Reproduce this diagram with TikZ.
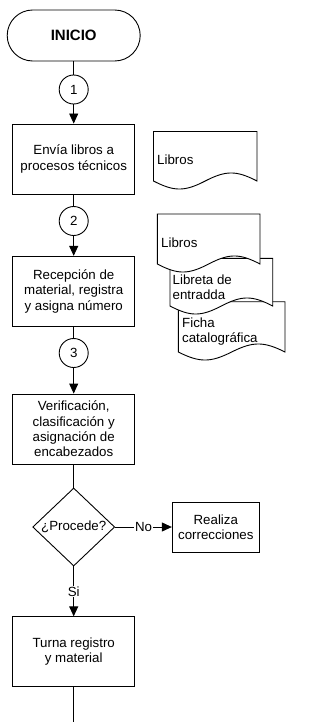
\documentclass[tikz,border=0pt]{standalone}
\usepackage{fontspec}
\setmainfont{Liberation Sans}
\usetikzlibrary{shapes.geometric,arrows.meta,calc}
\newcommand\docshape[4]{%
  \pgfmathsetmacro\dsW{#2-#1}%
  \pgfmathsetmacro\dsM{#1+0.5*\dsW}%
  \pgfmathsetmacro\dsA{#2-0.2*\dsW}%
  \pgfmathsetmacro\dsB{\dsM+0.2*\dsW}%
  \pgfmathsetmacro\dsC{\dsM-0.2*\dsW}%
  \pgfmathsetmacro\dsD{#1+0.2*\dsW}%
  \pgfmathsetmacro\dsU{#4-10.7}%
  \pgfmathsetmacro\dsL{#4+10.7}%
  \filldraw[docline] (#1,#3) -- (#2,#3) -- (#2,#4)
    .. controls (\dsA,\dsU) and (\dsB,\dsU) .. (\dsM,#4)
    .. controls (\dsC,\dsL) and (\dsD,\dsL) .. (#1,#4) -- cycle;
}
\begin{document}
\begin{tikzpicture}[x=1pt,y=-1pt,
  every node/.style={font=\fontsize{13.3}{15.3}\selectfont},
  line/.style={draw=black,line width=0.9pt},
  arr/.style={line,-{Triangle[length=10pt,width=9pt]}},
  proc/.style={draw=black,line width=0.9pt,fill=white,minimum width=122pt,minimum height=70pt,align=center,inner sep=2pt},
  conn/.style={draw=black,line width=0.9pt,fill=white,circle,minimum size=29pt,inner sep=0pt},
  term/.style={draw=black,line width=0.9pt,fill=white,rounded corners=25.5pt,minimum width=133pt,minimum height=51pt,font=\fontsize{15}{17}\selectfont\bfseries},
  decis/.style={draw=black,line width=0.9pt,fill=white,diamond,minimum width=82pt,minimum height=78pt,inner sep=0pt},
  docline/.style={draw=black,line width=0.9pt,fill=white},
  doctext/.style={anchor=west,align=left,inner sep=0pt},
  lbl/.style={fill=white,inner sep=1pt}]
\useasboundingbox (0,0) rectangle (331,722);

% main column
\node[term] (start) at (73.7,35.5) {INICIO};
\node[conn] (c1) at (73.7,89.5) {1};
\node[proc] (b1) at (73.7,159) {Envía libros a\\procesos técnicos};
\node[conn] (c2) at (73.7,221) {2};
\node[proc] (b2) at (73.7,291.3) {Recepción de\\material, registra\\y asigna número};
\node[conn] (c3) at (73.7,353) {3};
\node[proc] (b3) at (73.7,429) {Verificación,\\clasificación y\\asignación de\\encabezados};
\node[decis] (dec) at (73.7,527) {¿Procede?};
\node[draw=black,line width=0.9pt,minimum width=87pt,minimum height=50pt,align=center,inner sep=2pt] (corr) at (215.8,527) {Realiza\\correcciones};
\node[proc] (b4) at (73.7,651.8) {Turna registro\\y material};
\coordinate (fin) at (73.7,722);

% connectors
\draw[line] (start) -- (c1);
\draw[arr] (c1) -- (b1);
\draw[line] (b1) -- (c2);
\draw[arr] (c2) -- (b2);
\draw[line] (b2) -- (c3);
\draw[arr] (c3) -- (b3);
\draw[line] (b3) -- (dec);
\draw[arr] (dec.east) -- node[lbl] (lno) {No} (dec.east -| corr.west);
\draw[arr] (dec.south) -- node[lbl] (lsi) {Si} (b4.north);
\draw[line] (b4) -- (fin);

% documents
\docshape{153.5}{257}{131.5}{181}
\node[doctext] (dA) at (157,160) {Libros};
\docshape{178.3}{285}{301.7}{352}
\docshape{170}{272.7}{258.3}{306}
\docshape{157.3}{260}{214}{264}
\node[doctext] (dB) at (161,243) {Libros};
\node[doctext] (dC) at (172.5,287.5) {Libreta de\\entradda};
\node[doctext] (dD) at (182,331.5) {Ficha\\catalográfica};
\end{tikzpicture}
\end{document}
